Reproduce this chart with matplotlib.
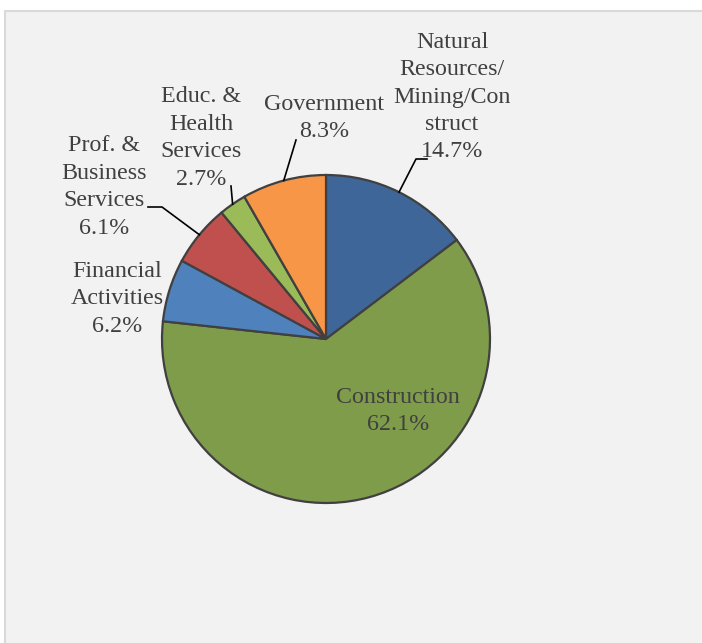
import matplotlib
matplotlib.use("Agg")
import matplotlib.pyplot as plt
from matplotlib.patches import Rectangle
from matplotlib.lines import Line2D
import numpy as np

# sectors, clockwise from 12 o'clock
sectors = [
    "Natural\nResources/\nMining/Con\nstruct",
    "Construction",
    "Financial\nActivities",
    "Prof. &\nBusiness\nServices",
    "Educ. &\nHealth\nServices",
    "Government",
]
shares = [14.7, 62.1, 6.2, 6.1, 2.7, 8.3]
colors = ["#3F6698", "#7F9C4B", "#4F81BD", "#C0504D", "#9BBB59", "#F79646"]

W, H = 702, 643
CX, CY, R = 326, 339, 164

# label centres (pixels) and optional leader elbow
label_pos = [(452, 97), (398, 411), (117, 299), (104, 187), (201, 138), (324, 118)]
leaders = [
    [(416, 159), (427, 159)],
    None,
    None,
    [(162, 207), (148, 207)],
    [(231, 186)],
    [(296, 140)],
]

plt.rcParams["font.family"] = ["Liberation Serif", "DejaVu Serif"]

fig = plt.figure(figsize=(W / 100, H / 100), dpi=100, facecolor="white")
# chart area background with light border on top and left
x0, y0 = 5 / W, 1 - 11 / H
fig.patches.append(Rectangle((x0, -0.05), 1.2, y0 + 0.05, transform=fig.transFigure,
                             facecolor="#F2F2F2", edgecolor="none", zorder=-5))
fig.lines.append(Line2D([x0, x0, 1.1], [-0.05, y0, y0], transform=fig.transFigure,
                        color="#D9D9D9", linewidth=1.5, zorder=-4))

ax = fig.add_axes([(CX - R) / W, (H - CY - R) / H, 2 * R / W, 2 * R / H])
ax.set_zorder(1)
ax.axis("off")

wedges, _ = ax.pie(shares, colors=colors, startangle=90, counterclock=False,
                   radius=1.0, wedgeprops=dict(edgecolor="#404040", linewidth=1.6))
ax.set_xlim(-1, 1)
ax.set_ylim(-1, 1)


def to_data(px, py):
    return (px - CX) / R, (CY - py) / R


for i, (lab, val) in enumerate(zip(sectors, shares)):
    tx, ty = to_data(*label_pos[i])
    ax.text(tx, ty, f"{lab}\n{val:.1f}%", ha="center", va="center",
            fontsize=17.3, color="#404040", linespacing=1.4, clip_on=False)
    if leaders[i] is not None:
        w = wedges[i]
        mid = np.deg2rad((w.theta1 + w.theta2) / 2)
        pts = [(np.cos(mid), np.sin(mid))] + [to_data(*p) for p in leaders[i]]
        xs, ys = zip(*pts)
        ax.plot(xs, ys, color="black", linewidth=1.2, clip_on=False)

fig.savefig("out.png", dpi=100, facecolor="white")
